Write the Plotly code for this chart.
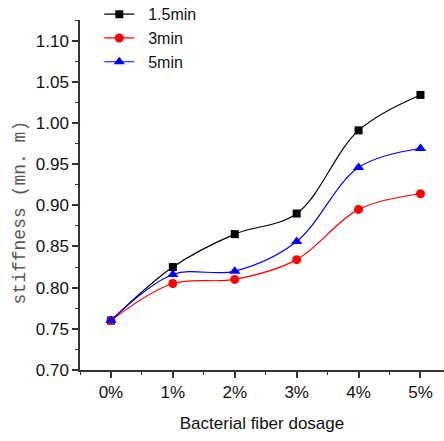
import plotly.graph_objects as go

categories = ["0%", "1%", "2%", "3%", "4%", "5%"]
series_names = ["1.5min", "3min", "5min"]
s_15min = [0.760, 0.825, 0.865, 0.890, 0.991, 1.034]
s_3min = [0.760, 0.805, 0.810, 0.834, 0.895, 0.914]
s_5min = [0.760, 0.816, 0.820, 0.856, 0.946, 0.969]
y_ticks = [0.70, 0.75, 0.80, 0.85, 0.90, 0.95, 1.00, 1.05, 1.10]

colors = ["#000000", "#ff0000", "#0000ff"]
symbols = ["square", "circle", "triangle-up"]
sizes = [8, 9, 10]
data = [s_15min, s_3min, s_5min]

xidx = list(range(len(categories)))
fig = go.Figure()
for name, vals, c, s, sz in zip(series_names, data, colors, symbols, sizes):
    fig.add_trace(go.Scatter(
        x=xidx, y=vals, name="\u00a0\u00a0" + name, mode="lines+markers",
        line=dict(color=c, width=1.2, shape="spline", smoothing=1.0),
        marker=dict(color=c, symbol=s, size=sz, line=dict(width=0)),
    ))

axis_col = "#333333"
fig.update_layout(
    width=444, height=441,
    margin=dict(l=80, r=0, t=20, b=71, autoexpand=False),
    paper_bgcolor="white", plot_bgcolor="white",
    font=dict(family="Liberation Sans, Arial", size=17, color="#111111"),
    showlegend=True,
    legend=dict(x=0.053, y=1.065, xanchor="left", yanchor="top",
                bgcolor="rgba(0,0,0,0)", font=dict(size=16),
                itemwidth=30, tracegroupgap=0),
    xaxis=dict(
        range=[-0.5, 5.38], tickmode="array", tickvals=xidx, ticktext=categories,
        showgrid=False, zeroline=False, showline=True, linecolor=axis_col, linewidth=1.5,
        ticks="outside", ticklen=6, tickwidth=1.5, tickcolor=axis_col,
        tickfont=dict(size=17),
        minor=dict(ticks="outside", ticklen=3, tickwidth=1.2, tickcolor=axis_col, dtick=0.5, tick0=-0.5),
        title=dict(text="Bacterial fiber dosage", standoff=16, font=dict(size=17)),
    ),
    yaxis=dict(
        range=[0.70, 1.125], tickmode="array", tickvals=y_ticks,
        ticktext=[f"{v:.2f}" for v in y_ticks],
        showgrid=False, zeroline=False, showline=True, linecolor=axis_col, linewidth=1.5,
        ticks="outside", ticklen=6, tickwidth=1.5, tickcolor=axis_col,
        tickfont=dict(size=17),
        minor=dict(ticks="outside", ticklen=3, tickwidth=1.2, tickcolor=axis_col, dtick=0.025, tick0=0.7),
    ),
    annotations=[dict(
        text="stiffness (mn. m)", xref="paper", yref="paper",
        x=-0.165, y=0.45, xanchor="center", yanchor="middle",
        textangle=-90, showarrow=False,
        font=dict(family="Liberation Mono, Courier New, monospace", size=18, color="#555555"),
    )],
)

fig.write_html("out.html")
